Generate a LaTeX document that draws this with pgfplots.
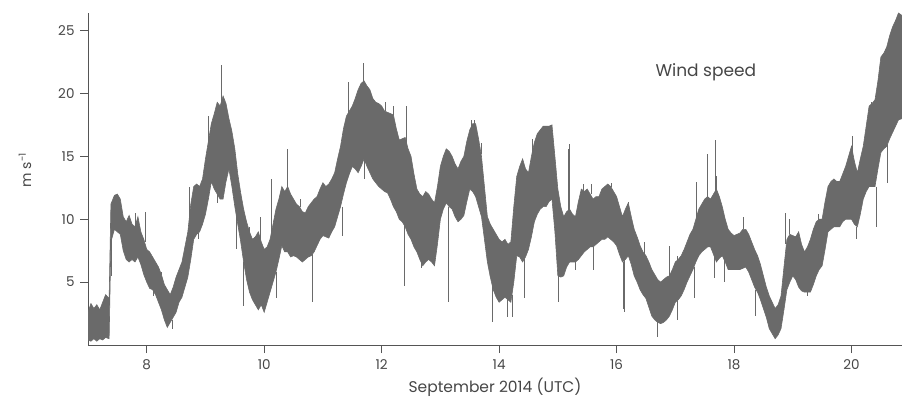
\documentclass[border=0pt]{standalone}
\usepackage{fontspec}
\setmainfont{Poppins}
\usepackage{pgfplots}
\usepackage{pgfplotstable}
\pgfplotsset{compat=1.18}
\usepgfplotslibrary{fillbetween}
\definecolor{bandgray}{RGB}{106,106,106}
\definecolor{axisgray}{RGB}{85,85,85}
\definecolor{textgray}{RGB}{70,70,70}

\pgfplotstableread{
d lo hi
7.00 0.4 2.6
7.05 0.3 3.3
7.10 0.5 2.9
7.15 0.3 3.2
7.20 0.5 2.8
7.25 0.4 3.4
7.30 0.6 4.0
7.36 0.5 3.7
7.39 8.2 11.2
7.45 9.2 11.9
7.50 9.0 12.0
7.55 8.8 11.6
7.60 7.5 10.2
7.65 6.8 9.8
7.70 6.6 10.3
7.75 6.8 9.6
7.80 6.6 9.4
7.85 7.0 10.2
7.90 6.4 9.0
7.95 5.6 8.4
8.00 5.0 7.6
8.05 4.5 7.4
8.10 4.4 7.0
8.15 4.0 6.6
8.20 3.4 6.2
8.25 2.8 5.6
8.30 2.0 4.8
8.35 1.4 4.4
8.40 1.8 4.0
8.45 2.2 4.6
8.50 2.6 5.4
8.55 3.4 6.0
8.60 3.8 6.6
8.65 4.6 7.8
8.70 5.4 9.0
8.75 6.8 11.2
8.80 8.4 12.6
8.85 8.8 12.8
8.90 9.0 12.6
8.95 9.6 13.2
9.00 10.4 14.8
9.05 11.6 16.2
9.10 13.0 17.6
9.15 12.4 18.4
9.20 12.0 19.3
9.25 11.6 19.0
9.30 11.6 19.8
9.35 13.0 19.2
9.40 14.0 18.0
9.45 12.6 17.0
9.50 11.0 15.6
9.55 9.6 13.6
9.60 8.2 12.1
9.65 6.6 10.8
9.70 5.2 9.8
9.75 4.2 9.0
9.80 3.6 8.4
9.85 3.2 8.6
9.90 2.8 9.0
9.95 3.2 8.2
10.00 2.6 7.6
10.05 3.4 7.8
10.10 4.2 8.4
10.15 5.0 9.6
10.20 5.8 10.8
10.25 6.8 11.6
10.30 7.9 12.6
10.35 7.4 12.2
10.40 7.4 12.6
10.45 7.0 12.0
10.50 7.1 11.6
10.55 7.0 11.2
10.60 6.8 11.0
10.65 6.6 10.6
10.70 6.8 10.5
10.75 7.0 11.0
10.80 7.1 11.3
10.85 7.4 11.6
10.90 7.9 11.8
10.95 8.4 12.4
11.00 8.7 12.9
11.05 8.6 12.6
11.10 8.5 12.8
11.15 9.0 13.2
11.20 9.4 13.7
11.25 10.2 14.8
11.30 11.0 15.8
11.35 12.0 17.2
11.40 12.9 18.2
11.45 13.6 18.6
11.50 14.2 19.0
11.55 14.0 19.6
11.60 13.7 20.3
11.65 14.2 20.8
11.70 14.8 21.0
11.75 14.2 20.6
11.80 13.7 20.3
11.85 13.2 19.6
11.90 12.9 19.3
11.95 12.6 19.2
12.00 12.4 19.0
12.05 12.2 18.6
12.10 12.1 18.5
12.15 11.6 18.4
12.20 11.0 18.3
12.25 10.6 17.2
12.30 10.0 16.3
12.35 9.8 16.4
12.40 9.4 16.5
12.45 8.8 15.6
12.50 8.4 15.0
12.55 7.8 13.6
12.60 7.4 12.4
12.65 6.8 12.0
12.70 6.3 11.8
12.75 6.6 12.2
12.80 6.8 12.0
12.85 6.6 11.6
12.90 6.3 11.3
12.95 8.0 12.6
13.00 10.0 14.2
13.05 10.8 15.0
13.10 11.3 15.6
13.15 11.0 15.4
13.20 10.8 15.0
13.25 10.2 14.4
13.30 9.8 14.0
13.35 10.0 14.6
13.40 10.3 15.0
13.45 11.4 16.2
13.50 12.4 17.1
13.55 12.2 17.6
13.60 11.8 17.6
13.65 11.0 16.4
13.70 10.2 15.0
13.75 8.4 12.6
13.80 6.6 10.2
13.85 5.4 9.6
13.90 4.4 9.2
13.95 3.8 8.8
14.00 3.4 8.4
14.05 3.6 8.2
14.10 3.8 8.4
14.15 3.6 8.0
14.20 3.4 8.2
14.25 5.0 11.0
14.30 7.1 13.4
14.35 7.0 14.2
14.40 6.6 14.8
14.45 7.0 14.0
14.50 7.6 13.7
14.55 8.6 15.0
14.60 9.8 16.1
14.65 10.4 16.8
14.70 10.8 17.1
14.75 11.0 17.4
14.80 11.0 17.4
14.85 11.4 17.4
14.90 11.6 17.5
14.95 9.0 15.0
15.00 5.5 12.4
15.05 5.4 11.0
15.10 5.5 10.2
15.15 6.2 10.6
15.20 6.6 10.8
15.25 6.6 10.4
15.30 6.6 10.2
15.35 6.8 11.4
15.40 7.1 12.4
15.45 7.4 12.2
15.50 7.6 12.4
15.55 7.8 12.0
15.60 7.8 11.6
15.65 8.0 11.8
15.70 8.2 11.8
15.75 8.4 12.4
15.80 8.4 12.6
15.85 8.6 12.8
15.90 8.4 12.6
15.95 8.2 12.2
16.00 7.9 11.8
16.05 7.2 11.0
16.10 6.6 10.2
16.15 6.8 10.8
16.20 7.1 11.3
16.25 6.4 10.2
16.30 5.5 9.2
16.35 5.0 8.6
16.40 4.4 7.9
16.45 4.0 7.4
16.50 3.7 7.1
16.55 3.0 6.6
16.60 2.3 6.0
16.65 2.0 5.6
16.70 1.8 5.2
16.75 1.7 5.0
16.80 1.8 5.2
16.85 2.0 5.4
16.90 2.3 5.5
16.95 2.8 6.0
17.00 3.4 6.6
17.05 3.6 6.8
17.10 3.9 7.1
17.15 4.4 7.6
17.20 5.0 8.2
17.25 5.5 8.8
17.30 6.0 9.2
17.35 6.6 10.0
17.40 7.1 10.8
17.45 7.4 11.2
17.50 7.6 11.6
17.55 7.8 11.8
17.60 7.8 11.6
17.65 7.2 12.0
17.70 6.6 12.4
17.75 6.9 11.8
17.80 7.1 11.0
17.85 6.6 10.0
17.90 6.0 9.2
17.95 6.0 8.9
18.00 6.0 8.7
18.05 6.0 8.8
18.10 6.0 8.9
18.15 6.1 9.2
18.20 6.2 9.2
18.25 5.8 8.8
18.30 5.2 8.2
18.35 4.6 7.6
18.40 4.2 7.1
18.45 3.6 6.4
18.50 2.9 5.5
18.55 2.2 4.6
18.60 1.3 3.9
18.65 0.9 3.4
18.70 0.5 2.9
18.75 0.8 3.2
18.80 1.3 3.9
18.85 2.8 6.2
18.90 4.4 8.4
18.95 5.0 8.8
19.00 5.5 8.7
19.05 5.2 8.6
19.10 4.6 9.0
19.15 4.3 8.0
19.20 4.2 7.4
19.25 4.2 7.8
19.30 4.2 8.4
19.35 4.8 9.2
19.40 5.5 9.8
19.45 6.0 10.0
19.50 6.3 10.0
19.55 7.6 11.4
19.60 9.0 12.6
19.65 9.2 13.0
19.70 9.4 13.2
19.75 9.4 13.0
19.80 9.4 13.0
19.85 9.8 13.6
19.90 10.0 14.2
19.95 10.0 15.0
20.00 10.0 15.8
20.05 9.6 14.6
20.10 9.4 13.7
20.15 10.4 14.8
20.20 11.6 15.8
20.25 12.2 17.4
20.30 12.6 19.0
20.35 12.6 19.2
20.40 12.6 19.5
20.45 14.0 21.0
20.50 15.3 22.9
20.55 15.6 23.2
20.60 15.8 23.7
20.65 16.4 24.6
20.70 16.9 25.3
20.75 17.4 25.8
20.80 17.9 26.4
20.86 18.0 26.2
}\band

\begin{document}
\begin{tikzpicture}
\begin{axis}[
  at={(0,0)}, anchor=south west,
  scale only axis, width=814bp, height=332bp,
  xmin=7, xmax=20.86, ymin=0, ymax=26.4,
  axis x line*=bottom, axis y line*=left,
  axis line style={axisgray, line width=0.9pt, -},
  tick align=outside, major tick length=8bp,
  tick style={axisgray, line width=0.8pt},
  xtick={8,10,12,14,16,18,20},
  ytick={5,10,15,20,25},
  minor tick num=0,
  /pgf/number format/assume math mode=true,
  ticklabel style={font=\fontsize{13.5bp}{15bp}\selectfont, text=textgray},
  xticklabel style={yshift=-3bp},
  yticklabel style={xshift=-2bp},
  xlabel={September 2014 (UTC)},
  xlabel style={font=\fontsize{15.5bp}{17bp}\selectfont, text=textgray, yshift=-1.5bp},
  unbounded coords=jump,
]
\addplot[draw=none, name path=hi, forget plot] table[x=d, y=hi] {\band};
\addplot[draw=none, name path=lo, forget plot] table[x=d, y=lo] {\band};
\addplot[fill=bandgray, draw=none] fill between[of=hi and lo];
\addplot[bandgray, line width=0.6pt] table[x=d, y=hi] {\band};
\addplot[bandgray, line width=0.6pt] table[x=d, y=lo] {\band};
% isolated long spikes
\addplot[bandgray, line width=0.9pt] coordinates {
 (7.40,9.0) (7.40,5.5) (7.40,nan)
 (9.28,19.0) (9.28,22.3) (9.28,nan)
 (9.93,8.0) (9.93,10.2) (9.93,nan)
 (10.12,8.0) (10.12,13.2) (10.12,nan)
 (10.39,12.0) (10.39,15.6) (10.39,nan)
 (10.82,7.2) (10.82,3.4) (10.82,nan)
 (11.33,11.0) (11.33,8.7) (11.33,nan)
 (11.43,18.0) (11.43,20.9) (11.43,nan)
 (11.69,20.5) (11.69,22.4) (11.69,nan)
 (12.38,9.8) (12.38,4.7) (12.38,nan)
 (12.42,16.0) (12.42,19.0) (12.42,nan)
 (13.14,11.0) (13.14,3.4) (13.14,nan)
 (13.58,17.0) (13.58,17.9) (13.58,nan)
 (13.88,5.0) (13.88,1.8) (13.88,nan)
 (14.15,3.8) (14.15,2.2) (14.15,nan)
 (14.43,6.8) (14.43,3.7) (14.43,nan)
 (15.01,5.5) (15.01,3.4) (15.01,nan)
 (15.18,10.5) (15.18,15.6) (15.18,nan)
 (16.14,6.8) (16.14,2.6) (16.14,nan)
 (16.70,1.8) (16.70,0.6) (16.70,nan)
 (17.33,6.2) (17.33,3.7) (17.33,nan)
 (17.55,11.5) (17.55,15.2) (17.55,nan)
 (17.66,7.2) (17.66,5.3) (17.66,nan)
 (17.68,12.0) (17.68,16.3) (17.68,nan)
 (18.88,8.0) (18.88,10.5) (18.88,nan)
 (20.02,15.0) (20.02,16.6) (20.02,nan)
 (20.42,12.6) (20.42,9.4) (20.42,nan)
 (20.62,16.0) (20.62,12.9) (20.62,nan)
};
% shorter spikes along the band edges
\addplot[bandgray, line width=0.7pt] coordinates {
 (7.80,9.4) (7.80,10.5) (7.80,nan)
 (7.97,8.2) (7.97,10.6) (7.97,nan)
 (8.12,4.4) (8.12,3.9) (8.12,nan)
 (8.25,5.6) (8.25,5.8) (8.25,nan)
 (8.43,2.0) (8.43,1.3) (8.43,nan)
 (8.72,9.5) (8.72,12.6) (8.72,nan)
 (8.88,8.9) (8.88,8.4) (8.88,nan)
 (9.05,16.0) (9.05,18.2) (9.05,nan)
 (9.20,12.0) (9.20,11.3) (9.20,nan)
 (9.52,10.6) (9.52,7.6) (9.52,nan)
 (9.65,6.6) (9.65,3.1) (9.65,nan)
 (9.75,8.9) (9.75,9.4) (9.75,nan)
 (10.20,5.8) (10.20,3.7) (10.20,nan)
 (10.62,11.0) (10.62,11.6) (10.62,nan)
 (11.70,14.8) (11.70,13.2) (11.70,nan)
 (12.07,18.6) (12.07,19.3) (12.07,nan)
 (12.20,18.3) (12.20,19.0) (12.20,nan)
 (12.67,6.6) (12.67,6.1) (12.67,nan)
 (13.52,17.1) (13.52,17.9) (13.52,nan)
 (13.69,15.2) (13.69,16.1) (13.69,nan)
 (14.22,4.0) (14.22,2.2) (14.22,nan)
 (14.34,14.0) (14.34,13.7) (14.34,nan)
 (14.57,15.2) (14.57,16.4) (14.57,nan)
 (15.20,10.8) (15.20,16.0) (15.20,nan)
 (15.30,6.6) (15.30,6.0) (15.30,nan)
 (15.43,12.2) (15.43,12.8) (15.43,nan)
 (15.57,12.0) (15.57,12.8) (15.57,nan)
 (15.60,7.8) (15.60,6.0) (15.60,nan)
 (15.91,12.6) (15.91,12.9) (15.91,nan)
 (16.12,6.6) (16.12,2.9) (16.12,nan)
 (16.20,11.3) (16.20,11.4) (16.20,nan)
 (16.48,7.2) (16.48,8.2) (16.48,nan)
 (16.90,5.5) (16.90,7.9) (16.90,nan)
 (17.03,3.5) (17.03,2.0) (17.03,nan)
 (17.04,6.7) (17.04,7.1) (17.04,nan)
 (17.35,10.0) (17.35,13.0) (17.35,nan)
 (17.70,12.4) (17.70,13.4) (17.70,nan)
 (17.83,6.8) (17.83,5.0) (17.83,nan)
 (18.16,9.2) (18.16,10.2) (18.16,nan)
 (18.37,4.4) (18.37,2.3) (18.37,nan)
 (18.95,8.8) (18.95,10.0) (18.95,nan)
 (19.24,4.2) (19.24,3.9) (19.24,nan)
 (19.43,9.9) (19.43,10.4) (19.43,nan)
 (19.66,13.0) (19.66,12.4) (19.66,nan)
 (20.09,9.4) (20.09,8.4) (20.09,nan)
 (20.34,19.1) (20.34,19.3) (20.34,nan)
};
\node[font=\fontsize{17bp}{19bp}\selectfont, text=textgray] at (axis cs:17.52,21.7) {Wind speed};
\end{axis}
\node[font=\fontsize{14bp}{16bp}\selectfont, text=textgray, rotate=90, anchor=center] at (-63bp,175bp) {m s\textsuperscript{-1}};
\pgfresetboundingbox
\path[use as bounding box] (-88bp,-53bp) rectangle (814bp,345bp);
\end{tikzpicture}
\end{document}
